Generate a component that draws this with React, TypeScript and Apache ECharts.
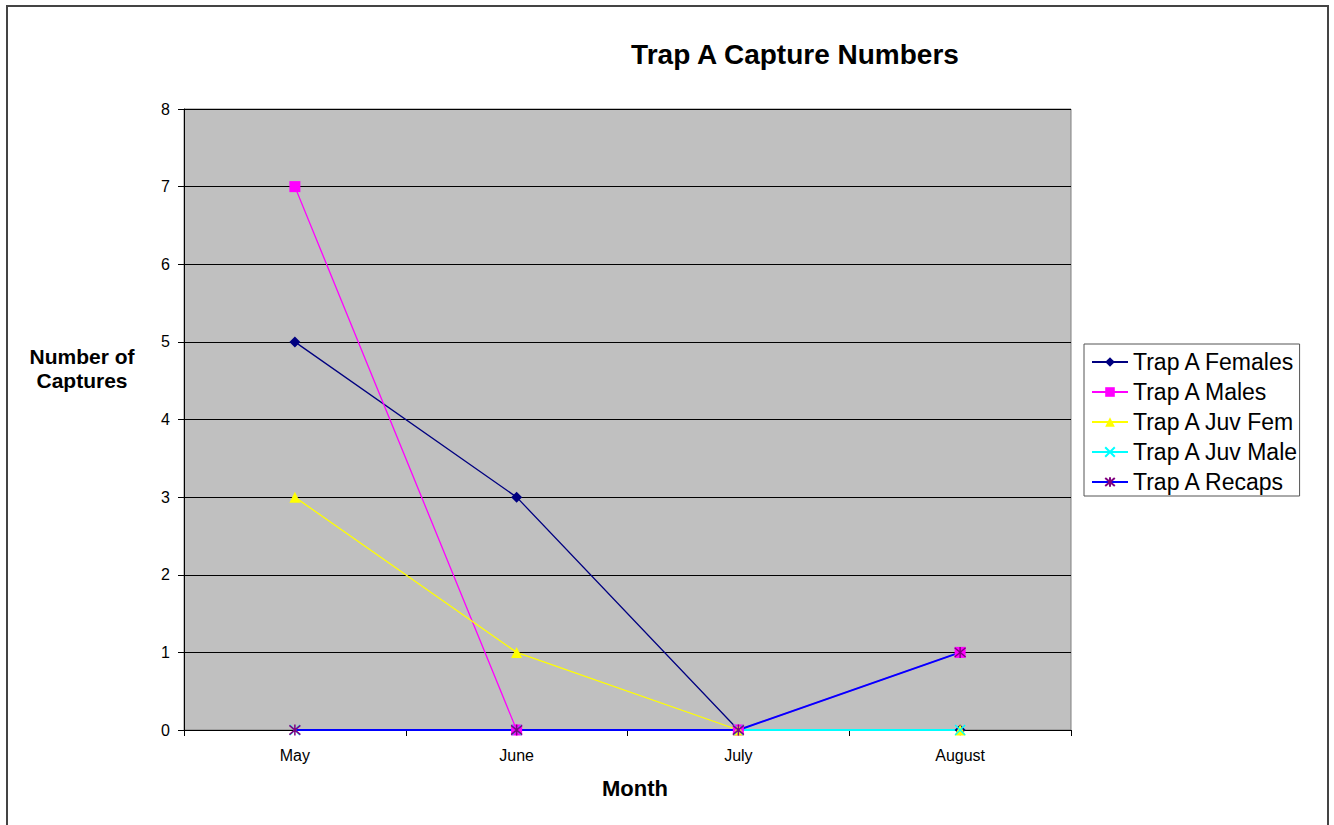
import React, { useEffect, useRef } from "react";
import * as echarts from "echarts";

const months = ["May", "June", "July", "August"];
const females = [5, 3, 0, 0];
const males = [7, 0, 0, 1];
const juvFem = [3, 1, 0, 0];
const juvMale = [0, 0, 0, 0];
const recaps = [0, 0, 0, 1];
const yTicks = [0, 1, 2, 3, 4, 5, 6, 7, 8];

const X_PATH = "path://M0 0 L10 10 M10 0 L0 10";
const STAR_PATH = "path://M0 0 L10 10 M10 0 L0 10 M5 -1 L5 11";

export default function App() {
  const ref = useRef<HTMLDivElement>(null);
  useEffect(() => {
    document.body.style.margin = "0";
    const chart = echarts.init(ref.current!, null, { renderer: "svg" });
    const font = "Arial, 'Liberation Sans', sans-serif";
    const mk = (name: string, data: number[], lineColor: string, symColor: string, symbol: string, size: number, stroke = false, lw = 1.3) => ({
      name,
      type: "line",
      data,
      symbol,
      symbolSize: size,
      lineStyle: { color: lineColor, width: lw },
      itemStyle: stroke
        ? { color: "none", borderColor: symColor, borderWidth: 1.5 }
        : { color: symColor, borderWidth: 0 },
      emphasis: { disabled: true },
    });
    chart.setOption({
      animation: false,
      backgroundColor: "#ffffff",
      textStyle: { fontFamily: font },
      title: {
        text: "Trap A Capture Numbers",
        left: 790,
        top: 35,
        textAlign: "center",
        textStyle: { fontSize: 28, fontWeight: "bold", color: "#000", fontFamily: font },
      },
      graphic: [
        {
          type: "rect",
          shape: { x: 7, y: 6, width: 1321, height: 830 },
          style: { fill: "none", stroke: "#444", lineWidth: 2 },
          z: 100,
        },
        {
          type: "text",
          x: 82,
          y: 368,
          style: {
            text: "Number of\nCaptures",
            fontSize: 21,
            fontWeight: "bold",
            fontFamily: font,
            fill: "#000",
            align: "center",
            verticalAlign: "middle",
            lineHeight: 24,
          },
        },
        {
          type: "text",
          x: 635,
          y: 788,
          style: {
            text: "Month",
            fontSize: 22,
            fontWeight: "bold",
            fontFamily: font,
            fill: "#000",
            align: "center",
            verticalAlign: "middle",
          },
        },
      ],
      legend: {
        orient: "vertical",
        left: 1084,
        top: 344,
        padding: [6, 0, 2, 7],
        itemGap: 6,
        itemWidth: 36,
        itemHeight: 12,
        borderColor: "#555",
        borderWidth: 1,
        backgroundColor: "#fff",
        textStyle: { fontSize: 23, color: "#000", fontFamily: font, lineHeight: 24 },
        data: ["Trap A Females", "Trap A Males", "Trap A Juv Fem", "Trap A Juv Male", "Trap A Recaps"],
      },
      grid: { left: 184, top: 109, width: 887, height: 621, show: true, backgroundColor: "#C0C0C0", borderColor: "#808080", borderWidth: 1 },
      xAxis: {
        type: "category",
        data: months,
        boundaryGap: true,
        axisLine: { lineStyle: { color: "#000", width: 1 } },
        axisTick: { show: true, length: 6, lineStyle: { color: "#000" } },
        axisLabel: { fontSize: 16, color: "#000", margin: 17 },
      },
      yAxis: {
        type: "value",
        min: 0,
        max: 8,
        interval: 1,
        axisLine: { show: true, lineStyle: { color: "#000", width: 1 } },
        axisTick: { show: true, length: 6, lineStyle: { color: "#000" } },
        axisLabel: { fontSize: 16, color: "#000", margin: 14, formatter: (v: number) => (yTicks.includes(v) ? String(v) : "") },
        splitLine: { show: true, lineStyle: { color: "#000", width: 1 } },
      },
      series: [
        mk("Trap A Females", females, "#000080", "#000080", "diamond", 11),
        mk("Trap A Males", males, "#FF00FF", "#FF00FF", "rect", 11),
        mk("Trap A Juv Fem", juvFem, "#FFFF00", "#FFFF00", "triangle", 11),
        mk("Trap A Juv Male", juvMale, "#00FFFF", "#00FFFF", X_PATH, 10, true, 2),
        mk("Trap A Recaps", recaps, "#0000FF", "#800080", STAR_PATH, 11, true, 2),
      ],
    });
    return () => chart.dispose();
  }, []);
  return <div ref={ref} style={{ width: 1334, height: 825 }} />;
}
